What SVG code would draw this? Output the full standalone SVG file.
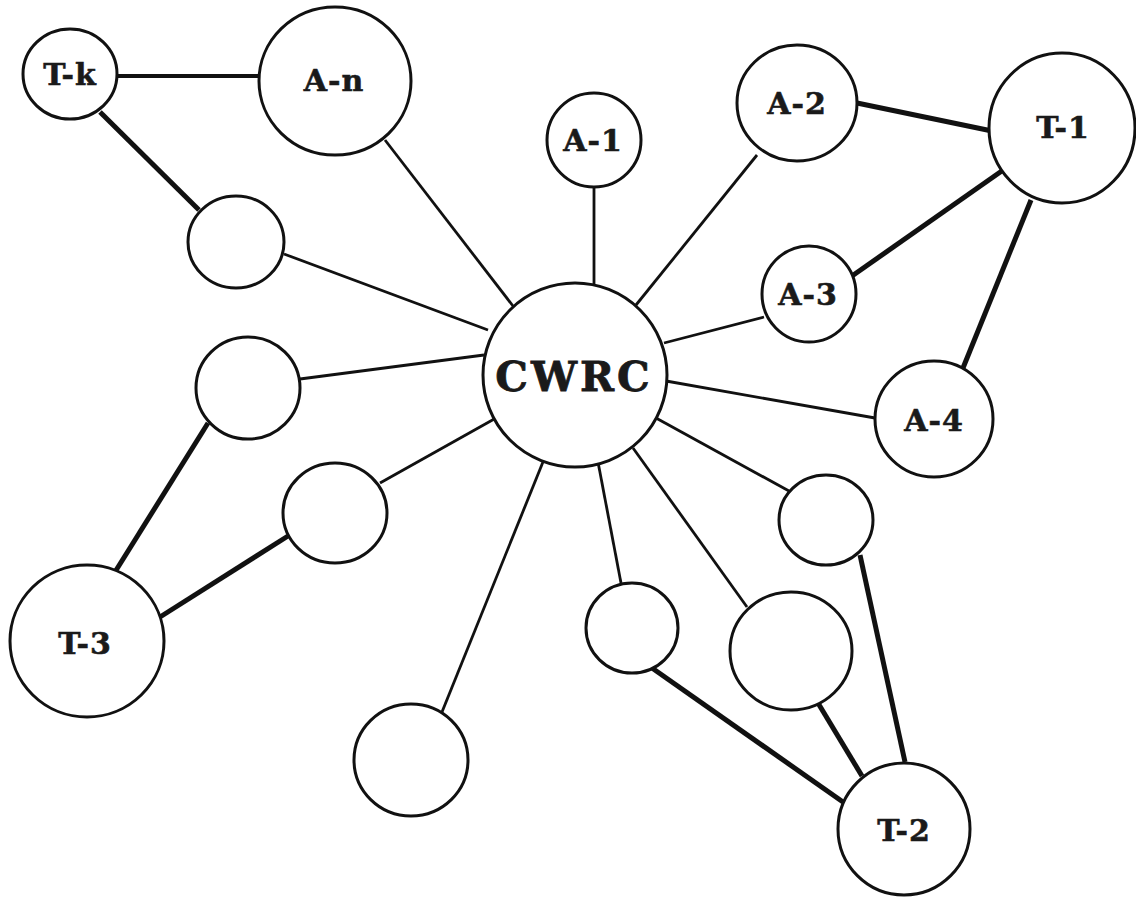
<svg xmlns="http://www.w3.org/2000/svg" width="1136" height="898" viewBox="0 0 1136 898">
<style>
.n{fill:#fff;stroke:#111;stroke-width:3}
.t{font-family:"DejaVu Serif","Liberation Serif",serif;font-weight:bold;font-size:30px;fill:#1a1a1a;stroke:#1a1a1a;stroke-width:0.6;text-anchor:middle;letter-spacing:1px}
.big{font-size:41px;letter-spacing:3px;stroke-width:0.8}
.c{stroke:#111;stroke-width:2.8;fill:none}
.k{stroke:#111;stroke-width:5;fill:none}
</style>
<rect width="1136" height="898" fill="#fff"/>
<g id="connectors">
<line class="c" x1="385" y1="140" x2="513" y2="306"/>
<line class="c" x1="284" y1="254" x2="488" y2="330"/>
<line class="c" x1="594" y1="188" x2="594" y2="284"/>
<line class="c" x1="757" y1="155" x2="636" y2="305"/>
<line class="c" x1="764" y1="317" x2="664" y2="343"/>
<line class="c" x1="875" y1="418" x2="666" y2="381"/>
<line class="c" x1="300" y1="379" x2="484" y2="355"/>
<line class="c" x1="380" y1="483" x2="496" y2="418"/>
<line class="c" x1="442" y1="712" x2="547" y2="452"/>
<line class="c" x1="621" y1="583" x2="598" y2="462"/>
<line class="c" x1="747" y1="607" x2="633" y2="448"/>
<line class="c" x1="789" y1="491" x2="656" y2="418"/>
<line class="c" style="stroke-width:4" x1="117" y1="76" x2="260" y2="76"/>
<line class="k" x1="100" y1="112" x2="199" y2="210"/>
<line class="k" x1="857" y1="103" x2="992" y2="131"/>
<line class="k" x1="852" y1="276" x2="1006" y2="168"/>
<line class="k" x1="963" y1="368" x2="1031" y2="200"/>
<line class="k" x1="208" y1="423" x2="115" y2="572"/>
<line class="k" x1="288" y1="536" x2="160" y2="617"/>
<line class="k" x1="652" y1="668" x2="843" y2="802"/>
<line class="k" x1="818" y1="703" x2="862" y2="776"/>
<line class="k" x1="860" y1="555" x2="905" y2="762"/>
</g>
<g id="node-Tk"><ellipse class="n" cx="70" cy="74" rx="47" ry="45"/><text class="t" x="70" y="85">T-k</text></g>
<g id="node-An"><ellipse class="n" cx="335" cy="81" rx="76" ry="74"/><text class="t" x="334" y="91">A-n</text></g>
<g id="node-A1"><ellipse class="n" cx="594" cy="140" rx="47" ry="47"/><text class="t" x="593" y="151">A-1</text></g>
<g id="node-A2"><ellipse class="n" cx="797" cy="103" rx="60" ry="58"/><text class="t" x="797" y="114">A-2</text></g>
<g id="node-T1"><ellipse class="n" cx="1062" cy="128" rx="73" ry="75"/><text class="t" x="1063" y="138">T-1</text></g>
<g id="node-b1"><ellipse class="n" cx="236" cy="242" rx="48" ry="46"/></g>
<g id="node-A3"><ellipse class="n" cx="809" cy="294" rx="47" ry="48"/><text class="t" x="808" y="305">A-3</text></g>
<g id="node-CWRC"><ellipse class="n" cx="575" cy="375" rx="92" ry="92"/><text class="t big" x="574" y="391">CWRC</text></g>
<g id="node-b2"><ellipse class="n" cx="248" cy="388" rx="52" ry="51"/></g>
<g id="node-A4"><ellipse class="n" cx="934" cy="419" rx="59" ry="58"/><text class="t" x="934" y="431">A-4</text></g>
<g id="node-b3"><ellipse class="n" cx="335" cy="513" rx="52" ry="50"/></g>
<g id="node-b4"><ellipse class="n" cx="826" cy="520" rx="47" ry="45"/></g>
<g id="node-T3"><ellipse class="n" cx="87" cy="641" rx="77" ry="76"/><text class="t" x="85" y="654">T-3</text></g>
<g id="node-b5"><ellipse class="n" cx="632" cy="628" rx="46" ry="45"/></g>
<g id="node-b6"><ellipse class="n" cx="791" cy="651" rx="61" ry="59"/></g>
<g id="node-b7"><ellipse class="n" cx="411" cy="760" rx="57" ry="56"/></g>
<g id="node-T2"><ellipse class="n" cx="904" cy="829" rx="66" ry="66"/><text class="t" x="904" y="841">T-2</text></g>
</svg>
